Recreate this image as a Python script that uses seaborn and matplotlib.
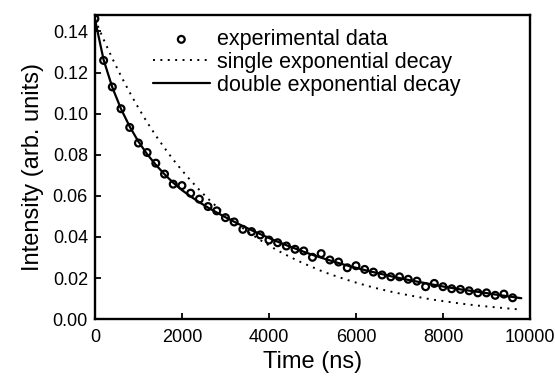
import matplotlib
matplotlib.use("Agg")
import matplotlib.pyplot as plt
import seaborn as sns

# time axis of the measurement (ns)
time_ns = [0, 200, 400, 600, 800, 1000, 1200, 1400, 1600, 1800,
           2000, 2200, 2400, 2600, 2800, 3000, 3200, 3400, 3600, 3800,
           4000, 4200, 4400, 4600, 4800, 5000, 5200, 5400, 5600, 5800,
           6000, 6200, 6400, 6600, 6800, 7000, 7200, 7400, 7600, 7800,
           8000, 8200, 8400, 8600, 8800, 9000, 9200, 9400, 9600]
measured = [0.1462, 0.1259, 0.1130, 0.1024, 0.0933, 0.0857, 0.0811, 0.0759, 0.0706, 0.0657,
            0.0650, 0.0613, 0.0584, 0.0548, 0.0527, 0.0494, 0.0473, 0.0437, 0.0426, 0.0410,
            0.0385, 0.0372, 0.0356, 0.0340, 0.0332, 0.0301, 0.0319, 0.0288, 0.0278, 0.0250,
            0.0260, 0.0242, 0.0229, 0.0215, 0.0206, 0.0206, 0.0194, 0.0185, 0.0158, 0.0174,
            0.0158, 0.0148, 0.0145, 0.0138, 0.0128, 0.0128, 0.0116, 0.0122, 0.0104]

# fit curves
fit_time = [0, 200, 400, 600, 800, 1000, 1200, 1400, 1600, 1800,
            2000, 2200, 2400, 2600, 2800, 3000, 3200, 3400, 3600, 3800,
            4000, 4200, 4400, 4600, 4800, 5000, 5200, 5400, 5600, 5800,
            6000, 6200, 6400, 6600, 6800, 7000, 7200, 7400, 7600, 7800,
            8000, 8200, 8400, 8600, 8800, 9000, 9200, 9400, 9600, 9800]
single_fit = [0.1460, 0.1361, 0.1269, 0.1183, 0.1103, 0.1028, 0.0958, 0.0893, 0.0833, 0.0776,
              0.0724, 0.0675, 0.0629, 0.0586, 0.0547, 0.0510, 0.0475, 0.0443, 0.0413, 0.0385,
              0.0359, 0.0334, 0.0312, 0.0291, 0.0271, 0.0253, 0.0235, 0.0219, 0.0205, 0.0191,
              0.0178, 0.0166, 0.0154, 0.0144, 0.0134, 0.0125, 0.0117, 0.0109, 0.0101, 0.0094,
              0.0088, 0.0082, 0.0076, 0.0071, 0.0066, 0.0062, 0.0058, 0.0054, 0.0050, 0.0047]
double_fit = [0.1460, 0.1262, 0.1128, 0.1023, 0.0937, 0.0864, 0.0803, 0.0751, 0.0705, 0.0664,
              0.0628, 0.0597, 0.0569, 0.0543, 0.0519, 0.0496, 0.0474, 0.0453, 0.0433, 0.0414,
              0.0395, 0.0377, 0.0360, 0.0344, 0.0328, 0.0313, 0.0299, 0.0286, 0.0273, 0.0261,
              0.0250, 0.0239, 0.0229, 0.0219, 0.0209, 0.0200, 0.0191, 0.0183, 0.0175, 0.0167,
              0.0159, 0.0152, 0.0145, 0.0139, 0.0133, 0.0127, 0.0120, 0.0114, 0.0108, 0.0102]

x_ticks = [0, 2000, 4000, 6000, 8000, 10000]
y_ticks = [0.00, 0.02, 0.04, 0.06, 0.08, 0.10, 0.12, 0.14]

sns.set_theme(style="ticks")
plt.rcParams["font.family"] = ["Liberation Sans", "DejaVu Sans"]
plt.rcParams["text.color"] = "black"
plt.rcParams["axes.labelcolor"] = "black"
plt.rcParams["xtick.color"] = "black"
plt.rcParams["ytick.color"] = "black"

fig, ax = plt.subplots(figsize=(5.55, 3.85), dpi=100)
fig.subplots_adjust(left=0.171, right=0.955, bottom=0.171, top=0.961)

sns.lineplot(x=fit_time, y=single_fit, ax=ax, color="black", linewidth=1.4,
             linestyle=(0, (1, 2.8)), label="single exponential decay", zorder=2)
sns.lineplot(x=fit_time, y=double_fit, ax=ax, color="black", linewidth=1.6,
             label="double exponential decay", zorder=3)
sns.scatterplot(x=time_ns, y=measured, ax=ax, marker="o", s=24, facecolor="none",
                edgecolor="black", linewidth=1.6, label="experimental data", zorder=4)

ax.set_xlim(0, 10000)
ax.set_ylim(0, 0.148)
ax.set_xticks(x_ticks)
ax.set_yticks(y_ticks)
ax.set_yticklabels([f"{v:.2f}" for v in y_ticks])
ax.set_xlabel("Time (ns)", fontsize=17, labelpad=4)
ax.set_ylabel("Intensity (arb. units)", fontsize=17, labelpad=6)
ax.tick_params(axis="both", direction="in", length=4.5, width=1.3, labelsize=13, colors="black")
ax.tick_params(axis="x", pad=7)
ax.tick_params(axis="y", pad=5)
for side in ["left", "right", "top", "bottom"]:
    ax.spines[side].set_visible(True)
    ax.spines[side].set_linewidth(1.7)
    ax.spines[side].set_color("black")

handles, labels = ax.get_legend_handles_labels()
order = [labels.index("experimental data"), labels.index("single exponential decay"),
         labels.index("double exponential decay")]
ax.legend([handles[i] for i in order], [labels[i] for i in order],
          loc="upper left", bbox_to_anchor=(0.133, 0.954), frameon=False,
          fontsize=15.5, handlelength=2.65, handletextpad=0.33, borderpad=0,
          borderaxespad=0, labelspacing=0.09, scatterpoints=1, labelcolor="black")

plt.savefig("out.png", dpi=100)
plt.close()
